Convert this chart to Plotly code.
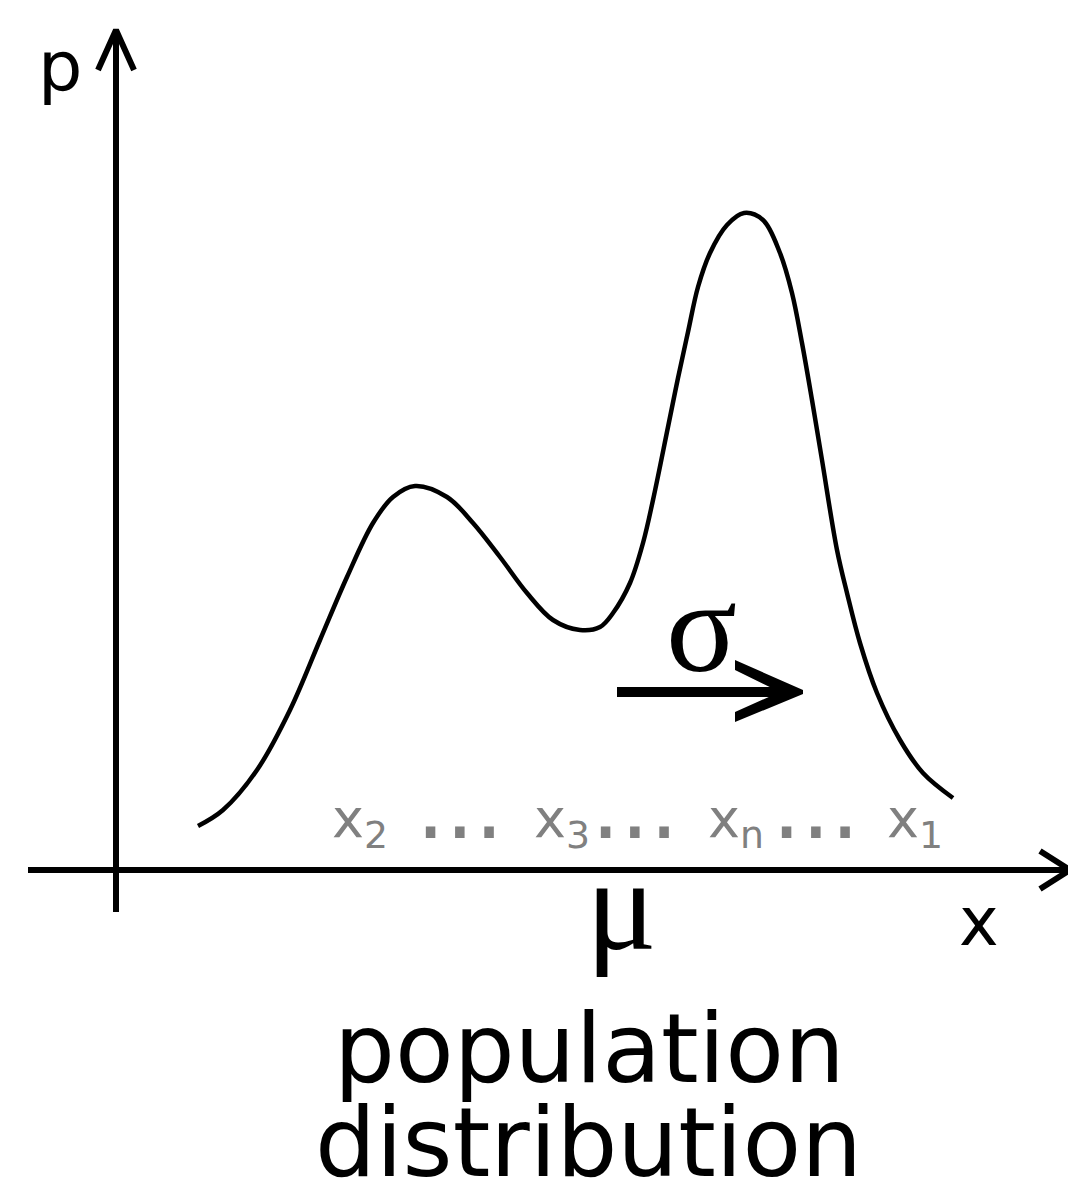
import plotly.graph_objects as go

# Bimodal population density (x right of p-axis, p above x-axis)
curve_x = [82, 107, 141, 174, 204, 231, 257, 277, 299, 331, 357, 384, 411, 437,
           464, 484, 497, 514, 527, 537, 552, 562, 572, 582, 594, 611, 628, 647,
           664, 676, 686, 696, 706, 721, 731, 744, 761, 784, 807, 837]
curve_p = [44, 60, 100, 160, 230, 293, 347, 373, 384, 373, 347, 313, 277, 250,
           240, 243, 257, 287, 327, 370, 443, 492, 538, 583, 617, 645, 657, 650,
           617, 577, 527, 470, 410, 320, 277, 227, 177, 130, 97, 72]

sample_labels = ["x<sub>2</sub>", "x<sub>3</sub>", "x<sub>n</sub>", "x<sub>1</sub>"]
sample_x = [214, 416, 590, 769]
ellipsis_x = [344, 519, 700]

INK = "black"
GREY = "#808080"
SANS = "DejaVu Sans"
SERIF = "Liberation Serif"

fig = go.Figure()

# axes drawn by hand: open chevron arrowheads like the sketch
axis_style = dict(color=INK, width=6)
fig.add_trace(go.Scatter(x=[-88, 954], y=[0, 0], mode="lines", line=axis_style))
fig.add_trace(go.Scatter(x=[924, 954, 924], y=[19, 0, -19], mode="lines", line=axis_style))
fig.add_trace(go.Scatter(x=[0, 0], y=[-42, 840], mode="lines", line=axis_style))
fig.add_trace(go.Scatter(x=[-18, 0, 18], y=[800, 840, 800], mode="lines", line=axis_style))

# the distribution itself (no point simplification, so the spline stays smooth)
fig.add_trace(go.Scatter(
    x=curve_x, y=curve_p, mode="lines",
    line=dict(color=INK, width=4.5, shape="spline", smoothing=1.0, simplify=False),
))

# sigma arrow
fig.add_trace(go.Scatter(x=[501, 672], y=[178, 178], mode="lines",
                         line=dict(color=INK, width=10)))
fig.add_shape(type="path",
              path="M 619,210 L 687,180 L 687,176 L 619,148 L 619,158 L 664,178 L 619,200 Z",
              fillcolor=INK, line=dict(width=0))

annotations = [
    dict(x=-56, y=803, text="p", font=dict(family=SANS, size=70, color=INK)),
    dict(x=863, y=-52, text="x", font=dict(family=SANS, size=67, color=INK)),
    dict(x=505, y=-34, text="μ", font=dict(family=SERIF, size=132, color=INK)),
    dict(x=585, y=244, text="σ", font=dict(family=SERIF, size=132, color=INK)),
    dict(x=473, y=-179, text="population", font=dict(family=SANS, size=96, color=INK)),
    dict(x=472, y=-273, text="distribution", font=dict(family=SANS, size=96, color=INK)),
]
for txt, xx in zip(sample_labels, sample_x):
    annotations.append(dict(x=xx, y=48, text=txt, xanchor="left",
                            font=dict(family=SANS, size=54, color=GREY)))
for xx in ellipsis_x:
    annotations.append(dict(x=xx, y=64, text="...",
                            font=dict(family=SANS, size=92, color=GREY)))
for a in annotations:
    a.setdefault("xanchor", "center")
    a.update(showarrow=False, yanchor="middle", xref="x", yref="y")

# page body adds an 8px margin, so the figure is trimmed to keep 1 unit = 1 px
fig.update_layout(
    width=1068, height=1176,
    margin=dict(l=0, r=0, t=0, b=0),
    paper_bgcolor="white", plot_bgcolor="white",
    showlegend=False,
    xaxis=dict(range=[-108, 960], visible=False, fixedrange=True),
    yaxis=dict(range=[-314, 862], visible=False, fixedrange=True),
    annotations=annotations,
)

fig.write_html("out.html", config={"displayModeBar": False})
